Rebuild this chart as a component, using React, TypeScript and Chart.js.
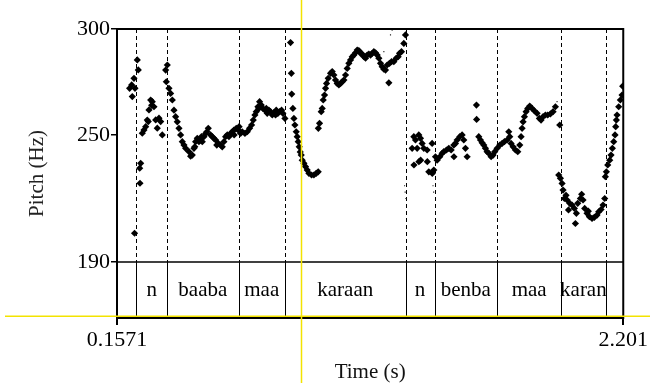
import React, { useEffect, useRef } from 'react';
import { Chart, registerables } from 'chart.js';

Chart.register(...registerables);

// ---- data ----
const TIME_MIN = 0.1571;
const TIME_MAX = 2.201;
const PITCH_MAX = 300;
const PITCH_FLOOR = 190;
const AXIS_MIN = 163.6; // bottom of the text-tier strip

const yTicks = [190, 250, 300];
const xTicks = [0.1571, 2.201];
const xTickLabels = ['0.1571', '2.201'];

const boundaries = [0.235, 0.359, 0.648, 0.835, 1.322, 1.439, 1.692, 1.95, 2.13];
const wordLabels = ['', 'n', 'baaba', 'maa', 'karaan', 'n', 'benba', 'maa', 'karan', ''];

// pitch track (time in s, pitch in Hz), per stretch
const seg1Times = [
  0.2080, 0.2164, 0.2188, 0.2257, 0.2297, 0.2390, 0.2430, 0.2487, 0.2499, 0.2527, 0.2280,
  0.2592, 0.2660, 0.2729, 0.2794, 0.2834, 0.2862, 0.2931, 0.2971, 0.2995, 0.3064, 0.3133,
  0.3197, 0.3266, 0.3334, 0.3399,
];
const seg1Hz = [
  272.0, 273.6, 268.1, 276.7, 272.0, 285.4, 280.7, 234.3, 227.2, 236.6, 203.6,
  250.8, 252.3, 253.9, 257.0, 256.3, 261.8, 266.5, 264.0, 265.7, 263.3, 257.1,
  253.2, 257.9, 256.3, 250.0,
];

const seg2Times = [
  0.3535, 0.3602, 0.3562, 0.3669, 0.3736, 0.3804, 0.3871, 0.3938, 0.4005, 0.4073, 0.4140,
  0.4207, 0.4275, 0.4342, 0.4476, 0.4543, 0.4611, 0.4678, 0.4711, 0.4745, 0.4812, 0.4880,
  0.4947, 0.4980, 0.5014, 0.5082, 0.5149, 0.5200, 0.5256, 0.5350, 0.5418, 0.5485, 0.5552,
  0.5600, 0.5660, 0.5754, 0.5821, 0.5888, 0.5956, 0.6023, 0.6090, 0.6157, 0.6225, 0.6292,
  0.6300, 0.6386, 0.6467, 0.6500, 0.6561, 0.6628, 0.6736, 0.6830, 0.6924, 0.7005, 0.7072,
  0.7139, 0.7193, 0.7260, 0.7300, 0.7328, 0.7395, 0.7462, 0.7543, 0.7600, 0.7637, 0.7704,
  0.7771, 0.7839, 0.7906, 0.7973, 0.8000, 0.8067, 0.8135, 0.8215, 0.8269, 0.8350,
];
const seg2Hz = [
  280.6, 283.0, 275.1, 272.0, 269.6, 266.5, 261.7, 258.6, 256.2, 253.1, 250.0,
  246.8, 245.2, 243.7, 242.1, 240.0, 240.5, 243.7, 244.4, 246.8, 248.4, 246.8,
  247.6, 249.2, 246.8, 249.2, 250.7, 251.5, 253.1, 250.0, 249.2, 248.4, 247.6,
  245.2, 246.0, 245.2, 244.4, 246.8, 249.2, 250.0, 249.2, 250.7, 251.5, 252.3,
  250.0, 253.1, 252.3, 253.9, 250.7, 251.5, 250.7, 251.5, 253.1, 254.7, 257.0,
  259.4, 261.0, 263.3, 262.5, 265.7, 264.1, 262.5, 261.7, 262.5, 260.2, 261.7,
  261.0, 259.4, 260.5, 259.4, 261.7, 260.2, 261.0, 261.7, 260.2, 257.8,
];

const seg3Times = [
  0.8578, 0.8610, 0.8625, 0.8672, 0.8713, 0.8753, 0.8807, 0.8847, 0.8888, 0.8928, 0.8968,
  0.9009, 0.9049, 0.9117, 0.9184, 0.9251, 0.9318, 0.9426, 0.9520, 0.9614, 0.9695, 0.9700,
  0.9749, 0.9816, 0.9856, 0.9897, 0.9950, 0.9991, 1.0031, 1.0098, 1.0192, 1.0260, 1.0327,
  1.0394, 1.0461, 1.0529, 1.0596, 1.0663, 1.0731, 1.0798, 1.0865, 1.0932, 1.1000, 1.1067,
  1.1134, 1.1201, 1.1269, 1.1336, 1.1403, 1.1470, 1.1538, 1.1605, 1.1672, 1.1739, 1.1807,
  1.1874, 1.1941, 1.2008, 1.2076, 1.2143, 1.2210, 1.2277, 1.2345, 1.2412, 1.2479, 1.2546,
  1.2573, 1.2654, 1.2748, 1.2842, 1.2923, 1.2977, 1.3057, 1.3151, 1.3218,
];
const seg3Hz = [
  293.6, 279.1, 269.3, 262.5, 257.8, 254.7, 251.5, 249.2, 246.8, 244.4, 242.0,
  240.5, 238.1, 236.6, 235.0, 233.4, 231.9, 231.1, 231.1, 231.9, 232.6, 253.1,
  255.5, 261.0, 262.5, 266.5, 268.8, 272.0, 274.3, 276.7, 279.1, 279.9, 278.3,
  275.9, 274.3, 273.6, 274.3, 275.1, 275.9, 278.3, 281.4, 283.8, 285.4, 286.9,
  287.7, 288.8, 290.1, 289.8, 288.5, 288.2, 286.9, 286.2, 287.7, 288.2, 287.7,
  288.5, 289.3, 288.8, 287.7, 286.2, 283.8, 282.2, 281.0, 280.6, 283.0, 274.6,
  283.8, 284.6, 284.6, 286.2, 286.9, 288.5, 289.3, 293.2, 297.2,
];

const seg4Times = [
  1.3487, 1.3555, 1.3560, 1.3622, 1.3689, 1.3756, 1.3760, 1.3824, 1.3830, 1.3891, 1.3958,
  1.4093, 1.4100, 1.4160, 1.4294, 1.4300, 1.4362, 1.4429, 1.4496, 1.4604, 1.4698, 1.4765,
  1.4873, 1.4967, 1.5061, 1.5169, 1.5175, 1.5236, 1.5303, 1.5411, 1.5505, 1.5572, 1.5639,
  1.5707, 1.6083, 1.6090, 1.6177, 1.6245, 1.6312, 1.6379, 1.6446, 1.6514, 1.6581, 1.6675,
  1.6756, 1.6823, 1.6917, 1.7025, 1.7119, 1.7213, 1.7321, 1.7388, 1.7428, 1.7482, 1.7563,
  1.7657, 1.7751, 1.7832, 1.7885, 1.7926, 1.7966, 1.8020, 1.8087, 1.8154, 1.8235, 1.8329,
  1.8423, 1.8531, 1.8625, 1.8692, 1.8773, 1.8867, 1.8961, 1.9069, 1.9177, 1.9271,
];
const seg4Hz = [
  243.7, 249.2, 235.8, 247.6, 243.7, 250.0, 237.4, 248.4, 238.1, 246.0, 243.7,
  242.9, 237.4, 232.6, 246.0, 231.8, 233.4, 239.7, 238.1, 239.7, 241.3, 242.1,
  242.9, 243.7, 242.9, 245.2, 239.7, 246.0, 247.6, 249.2, 250.0, 247.6, 243.7,
  239.7, 264.1, 257.3, 249.2, 247.6, 246.3, 245.2, 243.7, 242.1, 241.3, 239.7,
  240.5, 242.1, 243.7, 245.2, 246.0, 246.8, 247.6, 251.5, 249.2, 246.0, 244.4,
  242.9, 242.1, 245.2, 249.2, 253.1, 256.2, 258.6, 261.0, 262.5, 263.6, 262.5,
  261.4, 260.2, 257.8, 257.0, 258.6, 259.4, 259.4, 259.9, 261.0, 263.3,
];

const seg5Times = [
  1.9446, 1.9405, 1.9473, 1.9540, 1.9580, 1.9634, 1.9700, 1.9742, 1.9800, 1.9849, 1.9943,
  2.0037, 2.0078, 2.0118, 2.0172, 2.0280, 2.0330, 2.0387, 2.0454, 2.0549, 2.0600, 2.0643,
  2.0750, 2.0844, 2.0952, 2.1019, 2.1113, 2.1194, 2.1261, 2.1288, 2.1329, 2.1383, 2.1463,
  2.1517, 2.1571, 2.1625, 2.1678, 2.1705, 2.1732, 2.1759, 2.1826, 2.1893, 2.1961, 2.1987,
];
const seg5Hz = [
  254.7, 231.1, 229.5, 227.1, 224.0, 220.0, 221.5, 219.3, 214.6, 217.7, 216.9,
  215.3, 208.2, 213.0, 217.7, 220.0, 222.0, 219.3, 215.3, 213.0, 214.0, 211.4,
  210.6, 211.1, 212.2, 213.7, 214.8, 216.9, 220.0, 230.3, 232.6, 235.8, 238.1,
  240.5, 243.7, 246.8, 250.0, 253.9, 257.0, 259.4, 263.3, 266.5, 268.8, 273.0,
];

const pitchTimes = [...seg1Times, ...seg2Times, ...seg3Times, ...seg4Times, ...seg5Times];
const pitchHz = [...seg1Hz, ...seg2Hz, ...seg3Hz, ...seg4Hz, ...seg5Hz];

// faint, weak pitch candidates
const weakTimes = [1.2345, 1.2613, 1.2679, 1.318, 1.3205, 1.3235, 1.433, 1.4355, 1.9338, 1.927];
const weakHz = [289.3, 297.2, 299.5, 226.0, 223.0, 220.0, 226.0, 223.0, 265.7, 263.5];

// screen-capture cursor (yellow cross-hair)
const cursorTime = 0.902;
const cursorHz = 164.4;

const SERIF = '"Liberation Serif", "Times New Roman", serif';

const tierPlugin = {
  id: 'tierPlugin',
  beforeDatasetsDraw(chart: any) {
    const { ctx, chartArea: a, scales } = chart;
    const x = scales.x;
    const y = scales.y;
    const yf = y.getPixelForValue(PITCH_FLOOR);
    ctx.save();
    ctx.strokeStyle = '#000';
    ctx.lineWidth = 1;
    ctx.setLineDash([4, 3]);
    boundaries.forEach((t) => {
      const px = Math.round(x.getPixelForValue(t)) + 0.5;
      ctx.beginPath();
      ctx.moveTo(px, a.top);
      ctx.lineTo(px, yf);
      ctx.stroke();
    });
    ctx.setLineDash([]);
    boundaries.forEach((t) => {
      const px = Math.round(x.getPixelForValue(t)) + 0.5;
      ctx.beginPath();
      ctx.moveTo(px, yf);
      ctx.lineTo(px, a.bottom);
      ctx.stroke();
    });
    ctx.lineWidth = 1.5;
    ctx.beginPath();
    ctx.moveTo(a.left, yf);
    ctx.lineTo(a.right, yf);
    ctx.stroke();

    ctx.fillStyle = '#000';
    ctx.font = `21px ${SERIF}`;
    ctx.textAlign = 'center';
    ctx.textBaseline = 'middle';
    const edges = [TIME_MIN, ...boundaries, TIME_MAX];
    wordLabels.forEach((w, i) => {
      if (!w) return;
      const cx = (x.getPixelForValue(edges[i]) + x.getPixelForValue(edges[i + 1])) / 2;
      ctx.fillText(w, cx, (yf + a.bottom) / 2);
    });
    ctx.restore();
  },
  afterDraw(chart: any) {
    const { ctx, chartArea: a, scales, width, height } = chart;
    ctx.save();
    ctx.strokeStyle = '#000';
    ctx.lineWidth = 2;
    ctx.strokeRect(a.left, a.top, a.right - a.left, a.bottom - a.top);
    // yellow cursor lines
    ctx.strokeStyle = '#f3e300';
    ctx.lineWidth = 1.5;
    const cx = scales.x.getPixelForValue(cursorTime);
    const cy = scales.y.getPixelForValue(cursorHz);
    ctx.beginPath();
    ctx.moveTo(cx, 0);
    ctx.lineTo(cx, height);
    ctx.moveTo(5, cy);
    ctx.lineTo(width, cy);
    ctx.stroke();
    ctx.restore();
  },
};

export default function App() {
  const ref = useRef<HTMLCanvasElement | null>(null);

  useEffect(() => {
    if (!ref.current) return;
    const chart = new Chart(ref.current, {
      type: 'scatter',
      data: {
        datasets: [
          {
            label: 'Pitch',
            data: pitchTimes.map((t, i) => ({ x: t, y: pitchHz[i] })),
            pointStyle: 'rectRot',
            pointRadius: 3.6,
            backgroundColor: '#000',
            borderColor: '#000',
            borderWidth: 0,
          },
          {
            label: 'Weak',
            data: weakTimes.map((t, i) => ({ x: t, y: weakHz[i] })),
            pointStyle: 'rect',
            pointRadius: 0.8,
            backgroundColor: '#222',
            borderWidth: 0,
          },
        ],
      },
      options: {
        responsive: false,
        animation: false,
        events: [],
        layout: { padding: { left: 0, top: 29, right: 26, bottom: 0 } },
        plugins: { legend: { display: false }, tooltip: { enabled: false } },
        scales: {
          x: {
            type: 'linear',
            min: TIME_MIN,
            max: TIME_MAX,
            afterBuildTicks: (s: any) => {
              s.ticks = xTicks.map((v) => ({ value: v }));
            },
            afterFit: (s: any) => {
              s.height = 65;
            },
            ticks: {
              autoSkip: false,
              maxRotation: 0,
              padding: 2,
              color: '#000',
              font: { family: SERIF, size: 22 },
              callback: (v: any) => {
                const i = xTicks.indexOf(Number(v));
                return i >= 0 ? xTickLabels[i] : '';
              },
            },
            grid: { drawOnChartArea: false, drawTicks: true, tickLength: 7, color: '#000', lineWidth: 2 },
            border: { display: false },
            title: {
              display: true,
              text: 'Time (s)',
              color: '#111',
              font: { family: SERIF, size: 21, lineHeight: 1 },
              padding: { top: 0, bottom: 0 },
            },
          },
          y: {
            type: 'linear',
            min: AXIS_MIN,
            max: PITCH_MAX,
            afterBuildTicks: (s: any) => {
              s.ticks = yTicks.map((v) => ({ value: v }));
            },
            afterFit: (s: any) => {
              s.width = 117;
            },
            ticks: {
              autoSkip: false,
              padding: 1,
              color: '#000',
              font: { family: SERIF, size: 22 },
              callback: (v: any) => String(v),
            },
            grid: { drawOnChartArea: false, drawTicks: true, tickLength: 6, color: '#000', lineWidth: 1.5 },
            border: { display: false },
            title: {
              display: true,
              text: 'Pitch (Hz)',
              color: '#222',
              font: { family: SERIF, size: 21, lineHeight: 1 },
              padding: { top: 27, bottom: 0 },
            },
          },
        },
      },
      plugins: [tierPlugin],
    });
    return () => chart.destroy();
  }, []);

  return (
    <div style={{ position: 'fixed', left: 0, top: 0, width: 650, height: 383, background: '#fff' }}>
      <canvas ref={ref} width={650} height={383} />
    </div>
  );
}
